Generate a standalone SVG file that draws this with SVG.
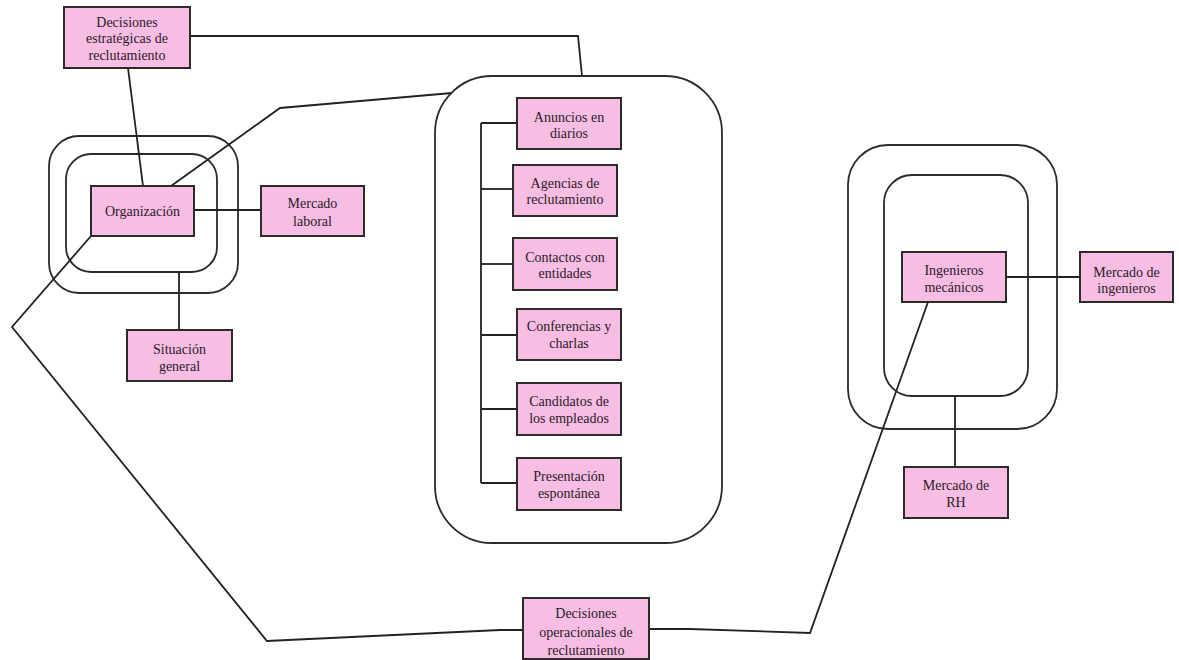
<svg xmlns="http://www.w3.org/2000/svg" width="1179" height="660" viewBox="0 0 1179 660">
<style>
.bg{fill:#ffffff}
.box{fill:#f8bde2;stroke:#2b2b2b;stroke-width:2}
.frame{fill:none;stroke:#2b2b2b;stroke-width:1.8}
.ln{fill:none;stroke:#222;stroke-width:1.8;stroke-linejoin:miter}
.t{font-family:'Liberation Serif','Times New Roman','DejaVu Serif',serif;font-size:14px;fill:#2a1a2a;text-anchor:middle}
</style>
<rect class="bg" x="0" y="0" width="1179" height="660"/>
<g id="frames">
  <rect class="frame" x="49" y="136" width="189" height="157" rx="30" ry="30"/>
  <rect class="frame" x="66" y="154" width="151" height="118" rx="25" ry="25"/>
  <rect class="frame" x="435" y="76" width="287" height="467" rx="57" ry="57"/>
  <rect class="frame" x="848" y="145" width="209" height="284" rx="40" ry="40"/>
  <rect class="frame" x="884" y="175" width="144" height="221" rx="28" ry="28"/>
</g>
<g id="connectors">
  <polyline class="ln" points="190,36 578,36 582,76"/>
  <line class="ln" x1="128" y1="68" x2="143" y2="186"/>
  <polyline class="ln" points="171,186 280,108 452,93"/>
  <line class="ln" x1="194" y1="210" x2="261" y2="210"/>
  <line class="ln" x1="179" y1="272" x2="179" y2="330"/>
  <polyline class="ln" points="91,236 12,327 267,641 500,630 523,630"/>
  <polyline class="ln" points="649,629 690,629 810,633 928,302"/>
  <line class="ln" x1="1006" y1="277" x2="1080" y2="277"/>
  <line class="ln" x1="955" y1="396" x2="955" y2="467"/>
  <line class="ln" x1="481" y1="123" x2="481" y2="483"/>
  <line class="ln" x1="481" y1="123" x2="517" y2="123"/>
  <line class="ln" x1="481" y1="189" x2="513" y2="189"/>
  <line class="ln" x1="481" y1="264" x2="513" y2="264"/>
  <line class="ln" x1="481" y1="335" x2="517" y2="335"/>
  <line class="ln" x1="481" y1="409" x2="517" y2="409"/>
  <line class="ln" x1="481" y1="483" x2="517" y2="483"/>
</g>
<g id="n-dec-estrategicas">
  <rect class="box" x="64" y="7" width="126" height="61"/>
  <text class="t" x="127" y="27" font-family="Liberation Serif, serif">Decisiones</text>
  <text class="t" x="127" y="43" font-family="Liberation Serif, serif">estratégicas de</text>
  <text class="t" x="127" y="60" font-family="Liberation Serif, serif">reclutamiento</text>
</g>
<g id="n-organizacion">
  <rect class="box" x="91" y="186" width="103" height="50"/>
  <text class="t" x="142.5" y="216">Organización</text>
</g>
<g id="n-mercado-laboral">
  <rect class="box" x="261" y="186" width="103" height="50"/>
  <text class="t" x="312.5" y="208">Mercado</text>
  <text class="t" x="312.5" y="226">laboral</text>
</g>
<g id="n-situacion-general">
  <rect class="box" x="127" y="330" width="105" height="51"/>
  <text class="t" x="179.5" y="354">Situación</text>
  <text class="t" x="179.5" y="371">general</text>
</g>
<g id="n-anuncios">
  <rect class="box" x="517" y="98" width="104" height="51"/>
  <text class="t" x="569" y="122">Anuncios en</text>
  <text class="t" x="569" y="138">diarios</text>
</g>
<g id="n-agencias">
  <rect class="box" x="513" y="165" width="104" height="51"/>
  <text class="t" x="565" y="188">Agencias de</text>
  <text class="t" x="565" y="204">reclutamiento</text>
</g>
<g id="n-contactos">
  <rect class="box" x="513" y="238" width="104" height="52"/>
  <text class="t" x="565" y="262">Contactos con</text>
  <text class="t" x="565" y="278">entidades</text>
</g>
<g id="n-conferencias">
  <rect class="box" x="517" y="309" width="104" height="51"/>
  <text class="t" x="569" y="331">Conferencias y</text>
  <text class="t" x="569" y="348">charlas</text>
</g>
<g id="n-candidatos">
  <rect class="box" x="517" y="383" width="104" height="52"/>
  <text class="t" x="569" y="406">Candidatos de</text>
  <text class="t" x="569" y="423">los empleados</text>
</g>
<g id="n-presentacion">
  <rect class="box" x="517" y="458" width="104" height="52"/>
  <text class="t" x="569" y="481">Presentación</text>
  <text class="t" x="569" y="498">espontánea</text>
</g>
<g id="n-ingenieros">
  <rect class="box" x="902" y="252" width="104" height="50"/>
  <text class="t" x="954" y="275">Ingenieros</text>
  <text class="t" x="954" y="292">mecánicos</text>
</g>
<g id="n-mercado-ingenieros">
  <rect class="box" x="1080" y="252" width="93" height="50"/>
  <text class="t" x="1126.5" y="277">Mercado de</text>
  <text class="t" x="1126.5" y="293">ingenieros</text>
</g>
<g id="n-mercado-rh">
  <rect class="box" x="904" y="467" width="104" height="51"/>
  <text class="t" x="956" y="490">Mercado de</text>
  <text class="t" x="956" y="507">RH</text>
</g>
<g id="n-dec-operacionales">
  <rect class="box" x="523" y="598" width="126" height="61"/>
  <text class="t" x="586" y="618">Decisiones</text>
  <text class="t" x="586" y="637">operacionales de</text>
  <text class="t" x="586" y="655">reclutamiento</text>
</g>
</svg>
